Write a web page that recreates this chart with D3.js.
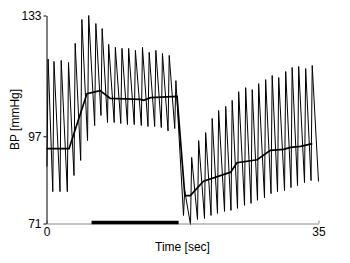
<!DOCTYPE html>
<html lang="en">
<head>
<meta charset="UTF-8"/>
<title>BP trace</title>
<script src="https://d3js.org/d3.v7.min.js"></script>
<style>
  body { margin: 0; background: #fff; }
  text { font-family: "Liberation Sans", Arial, sans-serif; }
</style>
</head>
<body>
<script>
    // beat onsets [sec], diastolic (onset) and systolic (peak) pressures [mmHg]
    var beatTime = [0.06, 0.81, 1.74, 2.68, 3.54, 4.40, 5.28, 6.20, 7.01, 7.85,
                    8.71, 9.56, 10.42, 11.29, 12.20, 13.06, 13.92, 14.77, 15.64, 16.50,
                    17.63, 18.53, 19.43, 20.33, 21.17, 22.00, 22.91, 23.74, 24.58, 25.48,
                    26.32, 27.15, 28.05, 28.89, 29.73, 30.63, 31.46, 32.30, 33.20, 34.04];
    var diastolic = [88.0, 80.5, 80.5, 80.5, 85.3, 89.8, 95.7, 100.2, 103.2, 101.1,
                     101.1, 100.8, 100.5, 100.5, 100.2, 99.9, 99.9, 99.6, 98.6, 99.3,
                     73.4, 70.7, 72.2, 72.5, 73.4, 74.0, 74.6, 74.9, 75.5, 76.4,
                     77.0, 77.9, 78.7, 79.9, 80.5, 80.8, 81.7, 82.3, 83.2, 83.8];
    var systolic = [120.0, 119.3, 119.6, 119.0, 124.7, 131.8, 133.0, 130.6, 129.1, 124.4,
                    123.5, 123.2, 123.2, 122.6, 123.5, 122.0, 122.6, 121.7, 121.1, 113.6,
                    80.8, 90.7, 95.7, 98.1, 102.3, 104.7, 105.9, 107.7, 110.3, 111.5,
                    110.9, 112.7, 113.9, 115.1, 114.5, 116.3, 117.5, 117.8, 117.2, 118.1];
    var upstroke = 0.15;
    var endTime = 35, endValue = 83.5;

    // running mean pressure
    var meanTime  = [0, 2.9, 5.2, 6.9, 8.2, 12.1, 12.5, 13.4, 16.8, 17.8,
                     18.5, 20.2, 23.7, 24.5, 27.1, 28.8, 30.5, 31.4, 32.7, 34.2];
    var meanValue = [93.3, 93.3, 109.7, 110.6, 108.3, 108.0, 107.7, 108.5, 108.9, 79.3,
                     79.3, 83.6, 86.3, 89.1, 90.0, 92.8, 93.1, 93.7, 94.0, 94.8];

    // stimulus period [sec]
    var stimulus = [5.8, 17.0];

    var xTicks = [0, 35];
    var yTicks = [71, 97, 133];

    var w = 350, h = 263;

    var x = d3.scaleLinear().domain([0, 35]).range([46.5, 318.5]);
    var y = d3.scaleLinear().domain([71, 133]).range([223.5, 15.5]);

    var svg = d3.select("body").append("svg")
        .attr("width", w)
        .attr("height", h);

    // pulsatile trace
    var trace = [];
    beatTime.forEach(function(t, i) {
        trace.push([t, diastolic[i]]);
        trace.push([t + upstroke, systolic[i]]);
    });
    trace.push([endTime, endValue]);

    var line = d3.line()
        .x(function(d) { return x(d[0]); })
        .y(function(d) { return y(d[1]); });

    svg.append("path")
        .datum(trace)
        .attr("fill", "none")
        .attr("stroke", "#000")
        .attr("stroke-width", 1)
        .attr("d", line);

    // mean line
    var meanPts = meanTime.map(function(t, i) { return [t, meanValue[i]]; });
    svg.append("path")
        .datum(meanPts)
        .attr("fill", "none")
        .attr("stroke", "#000")
        .attr("stroke-width", 1.7)
        .attr("d", line);

    // x axis
    var xAxis = svg.append("g")
        .attr("transform", "translate(0," + y(71) + ")")
        .call(d3.axisBottom(x).tickValues(xTicks).tickSizeInner(-3).tickSizeOuter(0).tickPadding(4));
    xAxis.select(".domain").attr("stroke", "#888");
    xAxis.selectAll(".tick line").attr("stroke", "#888");
    xAxis.selectAll("text").attr("font-size", "12px").attr("font-family", "Liberation Sans, Arial, sans-serif").attr("fill", "#000");

    // y axis
    var yAxis = svg.append("g")
        .attr("transform", "translate(" + x(0) + ",0)")
        .call(d3.axisLeft(y).tickValues(yTicks).tickSizeInner(3).tickSizeOuter(0).tickPadding(2));
    yAxis.select(".domain").attr("stroke", "#000");
    yAxis.selectAll("text").attr("font-size", "12px").attr("font-family", "Liberation Sans, Arial, sans-serif").attr("fill", "#000");

    // stimulus bar
    svg.append("line")
        .attr("x1", x(stimulus[0]))
        .attr("x2", x(stimulus[1]))
        .attr("y1", y(71) - 1)
        .attr("y2", y(71) - 1)
        .attr("stroke", "#000")
        .attr("stroke-width", 3.5);

    // axis titles
    svg.append("text")
        .attr("x", (x(0) + x(35)) / 2)
        .attr("y", 251)
        .attr("text-anchor", "middle")
        .attr("font-size", "12px")
        .text("Time [sec]");

    svg.append("text")
        .attr("transform", "translate(19," + ((y(71) + y(133)) / 2) + ") rotate(-90)")
        .attr("text-anchor", "middle")
        .attr("font-size", "12px")
        .text("BP [mmHg]");
</script>
</body>
</html>
